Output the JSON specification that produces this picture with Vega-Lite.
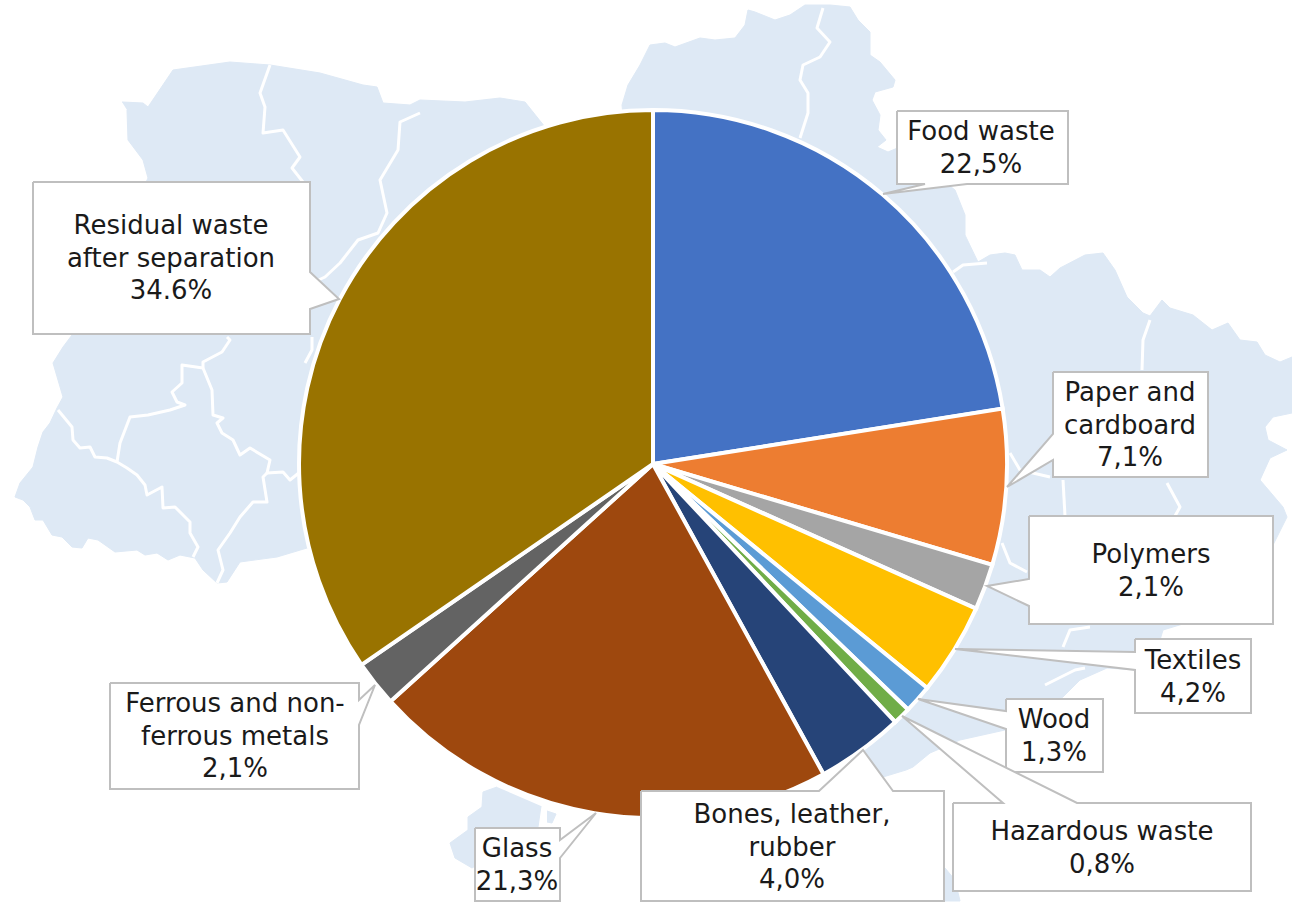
{"$schema":"https://vega.github.io/schema/vega-lite/v6.json","width":1292,"height":902,"autosize":"none","padding":0,"background":"white","view":{"stroke":null},
"datasets":{
"map":[
{"g":"main","x":122,"y":102},{"g":"main","x":143,"y":103},{"g":"main","x":148,"y":107},{"g":"main","x":173,"y":70},{"g":"main","x":230,"y":62},{"g":"main","x":270,"y":65},{"g":"main","x":320,"y":73},{"g":"main","x":363,"y":85},{"g":"main","x":377,"y":87},{"g":"main","x":383,"y":103},{"g":"main","x":410,"y":105},{"g":"main","x":420,"y":100},{"g":"main","x":465,"y":102},{"g":"main","x":500,"y":98},{"g":"main","x":525,"y":102},{"g":"main","x":545,"y":127},{"g":"main","x":640,"y":300},{"g":"main","x":622,"y":105},{"g":"main","x":628,"y":85},{"g":"main","x":640,"y":65},{"g":"main","x":650,"y":45},{"g":"main","x":665,"y":43},{"g":"main","x":675,"y":47},{"g":"main","x":700,"y":38},{"g":"main","x":715,"y":40},{"g":"main","x":735,"y":38},{"g":"main","x":745,"y":25},{"g":"main","x":748,"y":10},{"g":"main","x":755,"y":12},{"g":"main","x":775,"y":20},{"g":"main","x":790,"y":15},{"g":"main","x":805,"y":5},{"g":"main","x":830,"y":5},{"g":"main","x":850,"y":7},{"g":"main","x":858,"y":20},{"g":"main","x":870,"y":32},{"g":"main","x":870,"y":55},{"g":"main","x":880,"y":62},{"g":"main","x":895,"y":80},{"g":"main","x":893,"y":87},{"g":"main","x":875,"y":92},{"g":"main","x":872,"y":100},{"g":"main","x":880,"y":115},{"g":"main","x":878,"y":130},{"g":"main","x":886,"y":140},{"g":"main","x":877,"y":147},{"g":"main","x":888,"y":152},{"g":"main","x":900,"y":147},{"g":"main","x":955,"y":190},{"g":"main","x":965,"y":215},{"g":"main","x":965,"y":235},{"g":"main","x":978,"y":262},{"g":"main","x":990,"y":255},{"g":"main","x":1005,"y":253},{"g":"main","x":1015,"y":255},{"g":"main","x":1022,"y":270},{"g":"main","x":1040,"y":270},{"g":"main","x":1050,"y":277},{"g":"main","x":1060,"y":268},{"g":"main","x":1085,"y":255},{"g":"main","x":1103,"y":253},{"g":"main","x":1115,"y":270},{"g":"main","x":1127,"y":297},{"g":"main","x":1143,"y":313},{"g":"main","x":1150,"y":316},{"g":"main","x":1162,"y":300},{"g":"main","x":1170,"y":308},{"g":"main","x":1193,"y":315},{"g":"main","x":1212,"y":330},{"g":"main","x":1228,"y":323},{"g":"main","x":1240,"y":340},{"g":"main","x":1257,"y":342},{"g":"main","x":1265,"y":355},{"g":"main","x":1280,"y":362},{"g":"main","x":1292,"y":357},{"g":"main","x":1292,"y":413},{"g":"main","x":1273,"y":417},{"g":"main","x":1265,"y":427},{"g":"main","x":1268,"y":440},{"g":"main","x":1287,"y":450},{"g":"main","x":1270,"y":458},{"g":"main","x":1260,"y":480},{"g":"main","x":1283,"y":507},{"g":"main","x":1287,"y":517},{"g":"main","x":1273,"y":545},{"g":"main","x":1262,"y":600},{"g":"main","x":1163,"y":630},{"g":"main","x":1160,"y":640},{"g":"main","x":1137,"y":670},{"g":"main","x":1107,"y":668},{"g":"main","x":1080,"y":680},{"g":"main","x":1063,"y":697},{"g":"main","x":1005,"y":730},{"g":"main","x":960,"y":740},{"g":"main","x":930,"y":753},{"g":"main","x":913,"y":767},{"g":"main","x":906,"y":770},{"g":"main","x":883,"y":777},{"g":"main","x":870,"y":783},{"g":"main","x":800,"y":700},{"g":"main","x":500,"y":600},{"g":"main","x":307,"y":548},{"g":"main","x":277,"y":557},{"g":"main","x":240,"y":562},{"g":"main","x":227,"y":582},{"g":"main","x":217,"y":583},{"g":"main","x":203,"y":570},{"g":"main","x":195,"y":558},{"g":"main","x":180,"y":555},{"g":"main","x":168,"y":560},{"g":"main","x":157,"y":553},{"g":"main","x":145,"y":555},{"g":"main","x":137,"y":550},{"g":"main","x":115,"y":552},{"g":"main","x":98,"y":540},{"g":"main","x":88,"y":538},{"g":"main","x":82,"y":548},{"g":"main","x":72,"y":547},{"g":"main","x":62,"y":537},{"g":"main","x":52,"y":535},{"g":"main","x":43,"y":520},{"g":"main","x":35,"y":520},{"g":"main","x":30,"y":507},{"g":"main","x":23,"y":500},{"g":"main","x":15,"y":497},{"g":"main","x":20,"y":483},{"g":"main","x":33,"y":467},{"g":"main","x":38,"y":447},{"g":"main","x":43,"y":432},{"g":"main","x":50,"y":423},{"g":"main","x":57,"y":408},{"g":"main","x":63,"y":397},{"g":"main","x":58,"y":380},{"g":"main","x":53,"y":363},{"g":"main","x":63,"y":347},{"g":"main","x":72,"y":335},{"g":"main","x":148,"y":178},{"g":"main","x":143,"y":160},{"g":"main","x":128,"y":140},{"g":"main","x":127,"y":110},
{"g":"isl1","x":497,"y":787},{"g":"isl1","x":483,"y":792},{"g":"isl1","x":482,"y":807},{"g":"isl1","x":468,"y":817},{"g":"isl1","x":468,"y":830},{"g":"isl1","x":450,"y":843},{"g":"isl1","x":455,"y":858},{"g":"isl1","x":472,"y":868},{"g":"isl1","x":520,"y":840},{"g":"isl1","x":538,"y":827},{"g":"isl1","x":541,"y":806},
{"g":"isl2","x":547,"y":811},{"g":"isl2","x":556,"y":814},{"g":"isl2","x":552,"y":823},{"g":"isl2","x":547,"y":822},
{"g":"isl3","x":945,"y":868},{"g":"isl3","x":955,"y":880},{"g":"isl3","x":960,"y":901},{"g":"isl3","x":945,"y":901}
],
"borders":[
{"g":"a","x":270,"y":65},{"g":"a","x":260,"y":93},{"g":"a","x":265,"y":107},{"g":"a","x":263,"y":133},{"g":"a","x":283,"y":130},{"g":"a","x":300,"y":157},{"g":"a","x":292,"y":168},{"g":"a","x":303,"y":182},{"g":"a2","x":227,"y":337},{"g":"a2","x":230,"y":340},{"g":"a2","x":222,"y":352},{"g":"a2","x":203,"y":362},{"g":"a2","x":203,"y":368},
{"g":"b","x":420,"y":113},{"g":"b","x":400,"y":122},{"g":"b","x":398,"y":150},{"g":"b","x":380,"y":180},{"g":"b","x":387,"y":213},{"g":"b","x":378,"y":233},{"g":"b","x":358,"y":240},{"g":"b","x":340,"y":263},{"g":"b","x":325,"y":277},{"g":"b","x":312,"y":283},{"g":"b2","x":312,"y":337},{"g":"b2","x":312,"y":350},{"g":"b2","x":305,"y":363},
{"g":"c","x":203,"y":368},{"g":"c","x":182,"y":365},{"g":"c","x":182,"y":383},{"g":"c","x":172,"y":392},{"g":"c","x":177,"y":402},{"g":"c","x":185,"y":405},{"g":"c","x":170,"y":410},{"g":"c","x":148,"y":415},{"g":"c","x":130,"y":417},{"g":"c","x":120,"y":443},{"g":"c","x":117,"y":462},
{"g":"d","x":203,"y":368},{"g":"d","x":212,"y":390},{"g":"d","x":213,"y":415},{"g":"d","x":223,"y":418},{"g":"d","x":217,"y":423},{"g":"d","x":222,"y":433},{"g":"d","x":233,"y":440},{"g":"d","x":240,"y":455},{"g":"d","x":250,"y":448},{"g":"d","x":270,"y":460},{"g":"d","x":267,"y":473},{"g":"d","x":283,"y":472},{"g":"d","x":290,"y":480},{"g":"d","x":300,"y":472},
{"g":"e","x":267,"y":473},{"g":"e","x":263,"y":477},{"g":"e","x":267,"y":502},{"g":"e","x":253,"y":502},{"g":"e","x":240,"y":517},{"g":"e","x":230,"y":533},{"g":"e","x":218,"y":550},{"g":"e","x":223,"y":570},{"g":"e","x":217,"y":583},
{"g":"f","x":58,"y":410},{"g":"f","x":72,"y":427},{"g":"f","x":73,"y":440},{"g":"f","x":80,"y":448},{"g":"f","x":90,"y":447},{"g":"f","x":95,"y":457},{"g":"f","x":107,"y":458},{"g":"f","x":117,"y":462},{"g":"f","x":127,"y":468},{"g":"f","x":137,"y":475},{"g":"f","x":145,"y":485},{"g":"f","x":147,"y":495},{"g":"f","x":162,"y":487},{"g":"f","x":163,"y":508},{"g":"f","x":175,"y":507},{"g":"f","x":190,"y":522},{"g":"f","x":190,"y":533},{"g":"f","x":198,"y":547},{"g":"f","x":193,"y":557},
{"g":"h","x":823,"y":8},{"g":"h","x":817,"y":28},{"g":"h","x":830,"y":42},{"g":"h","x":820,"y":57},{"g":"h","x":803,"y":65},{"g":"h","x":800,"y":80},{"g":"h","x":808,"y":93},{"g":"h","x":808,"y":113},{"g":"h","x":800,"y":138},
{"g":"i","x":953,"y":272},{"g":"i","x":963,"y":265},{"g":"i","x":987,"y":263},
{"g":"j","x":1150,"y":320},{"g":"j","x":1143,"y":340},{"g":"j","x":1142,"y":370},
{"g":"k","x":1167,"y":483},{"g":"k","x":1180,"y":507},{"g":"k","x":1175,"y":516},
{"g":"l","x":1063,"y":480},{"g":"l","x":1065,"y":516},
{"g":"m","x":1010,"y":453},{"g":"m","x":1020,"y":470},{"g":"m","x":1050,"y":477},
{"g":"n","x":1002,"y":543},{"g":"n","x":1010,"y":563},{"g":"n","x":1027,"y":572},
{"g":"o","x":1063,"y":647},{"g":"o","x":1070,"y":630},{"g":"o","x":1090,"y":627},
{"g":"p","x":1045,"y":685},{"g":"p","x":1075,"y":670},{"g":"p","x":1085,"y":668}
],
"pie":[
{"name":"Food waste","k":1,"v":22.5,"x":653,"y":464},{"name":"Paper and cardboard","k":2,"v":7.1,"x":653,"y":464},{"name":"Polymers","k":3,"v":2.1,"x":653,"y":464},{"name":"Textiles","k":4,"v":4.2,"x":653,"y":464},{"name":"Wood","k":5,"v":1.3,"x":653,"y":464},{"name":"Hazardous waste","k":6,"v":0.8,"x":653,"y":464},{"name":"Bones, leather, rubber","k":7,"v":4.0,"x":653,"y":464},{"name":"Glass","k":8,"v":21.3,"x":653,"y":464},{"name":"Ferrous and non-ferrous metals","k":9,"v":2.1,"x":653,"y":464},{"name":"Residual waste after separation","k":10,"v":34.6,"x":653,"y":464}
],
"callouts":[
{"g":"a","x":897,"y":111},{"g":"a","x":1068,"y":111},{"g":"a","x":1068,"y":184},{"g":"a","x":967,"y":184},{"g":"a","x":883,"y":194},{"g":"a","x":925,"y":184},{"g":"a","x":897,"y":184},{"g":"a","x":897,"y":111},
{"g":"b","x":33,"y":182},{"g":"b","x":310,"y":182},{"g":"b","x":310,"y":272},{"g":"b","x":339,"y":299},{"g":"b","x":310,"y":309},{"g":"b","x":310,"y":334},{"g":"b","x":33,"y":334},{"g":"b","x":33,"y":182},
{"g":"c","x":1053,"y":372},{"g":"c","x":1208,"y":372},{"g":"c","x":1208,"y":477},{"g":"c","x":1053,"y":477},{"g":"c","x":1053,"y":460},{"g":"c","x":1007,"y":487},{"g":"c","x":1053,"y":434},{"g":"c","x":1053,"y":372},
{"g":"d","x":1029,"y":516},{"g":"d","x":1273,"y":516},{"g":"d","x":1273,"y":624},{"g":"d","x":1029,"y":624},{"g":"d","x":1029,"y":606},{"g":"d","x":987,"y":586},{"g":"d","x":1029,"y":579},{"g":"d","x":1029,"y":516},
{"g":"e","x":1135,"y":639},{"g":"e","x":1251,"y":639},{"g":"e","x":1251,"y":713},{"g":"e","x":1135,"y":713},{"g":"e","x":1135,"y":670},{"g":"e","x":955,"y":649},{"g":"e","x":1135,"y":652},{"g":"e","x":1135,"y":639},
{"g":"f","x":1006,"y":699},{"g":"f","x":1103,"y":699},{"g":"f","x":1103,"y":772},{"g":"f","x":1006,"y":772},{"g":"f","x":1006,"y":729},{"g":"f","x":918,"y":699},{"g":"f","x":1006,"y":711},{"g":"f","x":1006,"y":699},
{"g":"g","x":953,"y":803},{"g":"g","x":1003,"y":803},{"g":"g","x":902,"y":716},{"g":"g","x":1077,"y":803},{"g":"g","x":1251,"y":803},{"g":"g","x":1251,"y":891},{"g":"g","x":953,"y":891},{"g":"g","x":953,"y":803},
{"g":"h","x":641,"y":791},{"g":"h","x":819,"y":791},{"g":"h","x":863,"y":750},{"g":"h","x":893,"y":791},{"g":"h","x":944,"y":791},{"g":"h","x":944,"y":901},{"g":"h","x":641,"y":901},{"g":"h","x":641,"y":791},
{"g":"i","x":475,"y":828},{"g":"i","x":560,"y":828},{"g":"i","x":560,"y":840},{"g":"i","x":596,"y":813},{"g":"i","x":560,"y":858},{"g":"i","x":560,"y":901},{"g":"i","x":475,"y":901},{"g":"i","x":475,"y":828},
{"g":"j","x":110,"y":683},{"g":"j","x":359,"y":683},{"g":"j","x":359,"y":700},{"g":"j","x":375,"y":685},{"g":"j","x":359,"y":725},{"g":"j","x":359,"y":789},{"g":"j","x":110,"y":789},{"g":"j","x":110,"y":683}
],
"labels":[
{"t":"Food waste\n22,5%","x":981,"y":132},
{"t":"Residual waste\nafter separation\n34.6%","x":171,"y":226},
{"t":"Paper and\ncardboard\n7,1%","x":1130,"y":393},
{"t":"Polymers\n2,1%","x":1151,"y":555},
{"t":"Textiles\n4,2%","x":1193,"y":661},
{"t":"Wood\n1,3%","x":1054,"y":720},
{"t":"Hazardous waste\n0,8%","x":1102,"y":832},
{"t":"Bones, leather,\nrubber\n4,0%","x":792,"y":815},
{"t":"Glass\n21,3%","x":517,"y":849},
{"t":"Ferrous and non-\nferrous metals\n2,1%","x":235,"y":704}
]},
"encoding":{
"x":{"field":"x","type":"quantitative","scale":{"domain":[0,1292],"nice":false,"zero":false},"axis":null},
"y":{"field":"y","type":"quantitative","scale":{"domain":[902,0],"nice":false,"zero":false},"axis":null}},
"layer":[
{"data":{"name":"map"},"mark":{"type":"line","fill":"#dee9f5","stroke":"#dee9f5","strokeWidth":1},"encoding":{"detail":{"field":"g"},"order":{"value":null}}},
{"data":{"name":"borders"},"mark":{"type":"line","stroke":"#ffffff","strokeWidth":3,"strokeJoin":"round"},"encoding":{"detail":{"field":"g"},"order":{"value":null}}},
{"data":{"name":"pie"},"transform":[{"stack":"v","groupby":[],"sort":[{"field":"k","order":"ascending"}],"as":["a0","a1"]}],"mark":{"type":"arc","radius":354,"stroke":"#ffffff","strokeWidth":4},"encoding":{
"x":{"field":"x","type":"quantitative","stack":null},"y":{"field":"y","type":"quantitative","stack":null},
"theta":{"field":"a0","type":"quantitative","stack":null,"scale":{"domain":[0,100],"range":[0,6.283185307]}},
"theta2":{"field":"a1"},
"color":{"field":"name","type":"nominal","legend":null,"scale":{"domain":["Food waste","Paper and cardboard","Polymers","Textiles","Wood","Hazardous waste","Bones, leather, rubber","Glass","Ferrous and non-ferrous metals","Residual waste after separation"],"range":["#4472c4","#ed7d31","#a5a5a5","#ffc000","#5b9bd5","#70ad47","#264478","#9e480e","#636363","#997300"]}}}},
{"data":{"name":"callouts"},"mark":{"type":"line","fill":"#ffffff","stroke":"#bfbfbf","strokeWidth":2},"encoding":{"detail":{"field":"g"},"order":{"value":null}}},
{"data":{"name":"labels"},"mark":{"type":"text","font":"DejaVu Sans","fontSize":26,"lineBreak":"\n","lineHeight":32.7,"align":"center","baseline":"middle","color":"#1a1a1a"},"encoding":{"text":{"field":"t"}}}
]}
